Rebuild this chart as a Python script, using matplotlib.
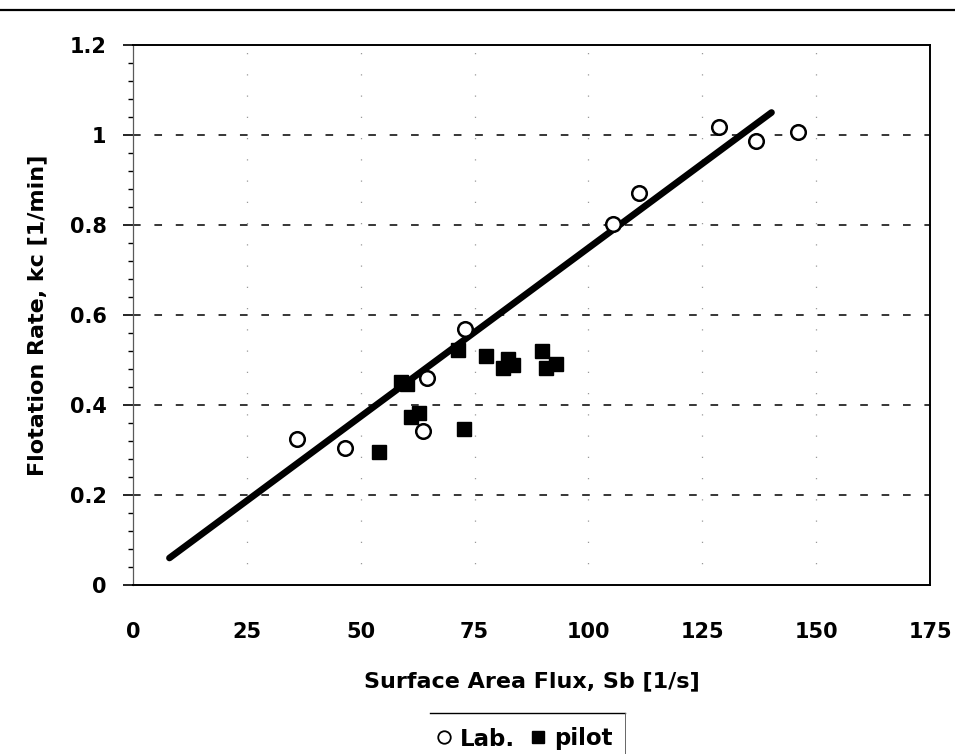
import matplotlib
matplotlib.use("Agg")
import matplotlib.pyplot as plt
from matplotlib.lines import Line2D
from matplotlib.ticker import MultipleLocator

# Laboratory cell measurements
lab_sb = [36.0, 46.6, 63.7, 64.6, 72.8, 105.3, 111.2, 128.7, 136.8, 146.1]
lab_kc = [0.324, 0.304, 0.342, 0.461, 0.570, 0.802, 0.872, 1.018, 0.987, 1.006]

# Pilot cell measurements
pilot_sb = [54.1, 58.8, 60.2, 61.0, 62.9, 71.4, 72.6, 77.5, 81.3, 82.4, 83.5, 89.9, 90.6, 92.9]
pilot_kc = [0.296, 0.452, 0.446, 0.374, 0.383, 0.522, 0.347, 0.510, 0.483, 0.502, 0.490, 0.521, 0.483, 0.491]

# Linear correlation line endpoints
fit_sb = [8.0, 140.2]
fit_kc = [0.060, 1.050]

x_ticks = [0, 25, 50, 75, 100, 125, 150, 175]
y_ticks = [0, 0.2, 0.4, 0.6, 0.8, 1.0, 1.2]
y_tick_labels = ["0", "0.2", "0.4", "0.6", "0.8", "1", "1.2"]

plt.rcParams["font.family"] = ["DejaVu Sans"]
plt.rcParams["font.weight"] = "bold"

fig = plt.figure(figsize=(9.55, 7.54), dpi=100)
ax = fig.add_axes([133 / 955, 1 - 585 / 754, 797 / 955, 540 / 754])

ax.set_xlim(0, 175)
ax.set_ylim(0, 1.2)

# grid
for yv in y_ticks[1:-1]:
    ax.axhline(yv, color="black", lw=1.1, ls=(0, (5, 9)), zorder=1)
for xv in x_ticks[1:-1]:
    ax.axvline(xv, color="0.6", lw=0.9, ls=(0, (1, 16)), zorder=1)

ax.plot(fit_sb, fit_kc, color="black", lw=4.8, solid_capstyle="round", zorder=3)
ax.plot(lab_sb, lab_kc, ls="none", marker="o", ms=10.5, mfc="white", mec="black",
        mew=1.8, zorder=4, label="Lab.")
ax.plot(pilot_sb, pilot_kc, ls="none", marker="s", ms=10, mfc="black", mec="black",
        mew=1, zorder=4, label="pilot")

for side in ["top", "bottom", "right"]:
    ax.spines[side].set_color("black")
    ax.spines[side].set_linewidth(1.4)
ax.spines["left"].set_color("0.35")
ax.spines["left"].set_linewidth(0.9)

ax.set_xticks(x_ticks)
ax.set_xticklabels([str(v) for v in x_ticks])
ax.set_yticks(y_ticks)
ax.set_yticklabels(y_tick_labels)
ax.yaxis.set_minor_locator(MultipleLocator(0.04))
ax.tick_params(axis="x", length=0, pad=27, labelsize=15)
ax.tick_params(axis="y", which="major", length=7, width=1.2, pad=12, labelsize=15)
ax.tick_params(axis="y", which="minor", length=3.5, width=1.0)

ax.set_xlabel("Surface Area Flux, Sb [1/s]", fontsize=16, fontweight="bold", labelpad=21)
ax.set_ylabel("Flotation Rate, kc [1/min]", fontsize=16, fontweight="bold", labelpad=16)

# legend below the axes
handles = [
    Line2D([], [], ls="none", marker="o", ms=9, mfc="white", mec="black", mew=1.3),
    Line2D([], [], ls="none", marker="s", ms=8, mfc="black", mec="black"),
]
fig.legend(handles, ["Lab.", "pilot"], loc="center", ncol=2, frameon=False,
           bbox_to_anchor=(524 / 955, 1 - 739 / 754), prop={"size": 16.5, "weight": "bold"},
           handlelength=0.8, handletextpad=0.3, columnspacing=0.6)
fig.add_artist(Line2D([430 / 955, 625 / 955], [1 - 713 / 754, 1 - 713 / 754],
                      transform=fig.transFigure, color="black", lw=1.0))
fig.add_artist(Line2D([625 / 955, 625 / 955], [1 - 713 / 754, 0],
                      transform=fig.transFigure, color="0.4", lw=0.7))

# page rule across the top
fig.add_artist(Line2D([0, 1], [1 - 10 / 754, 1 - 10 / 754],
                      transform=fig.transFigure, color="black", lw=1.6))

fig.savefig("out.png", dpi=100)
